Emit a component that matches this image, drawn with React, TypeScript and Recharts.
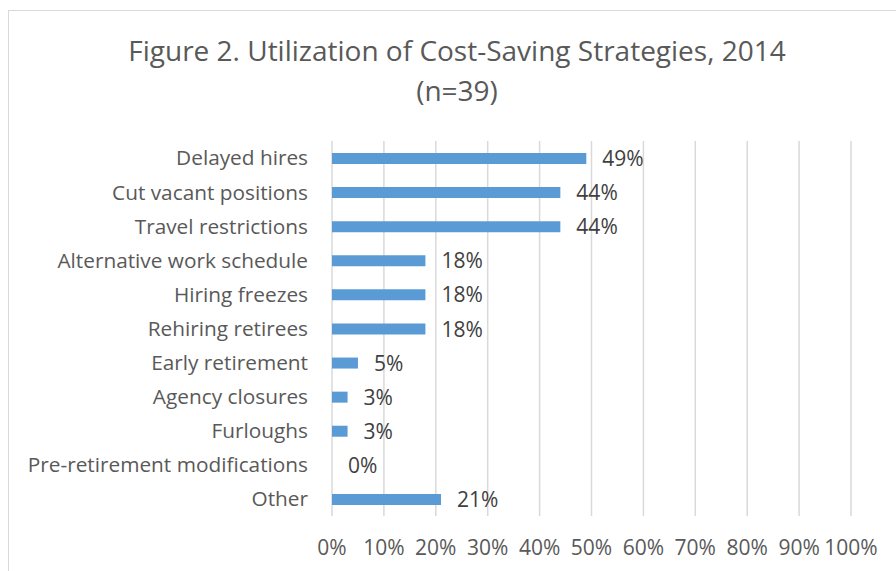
import { BarChart, Bar, XAxis, YAxis, CartesianGrid, LabelList } from "recharts"

const categories = [
  "Delayed hires",
  "Cut vacant positions",
  "Travel restrictions",
  "Alternative work schedule",
  "Hiring freezes",
  "Rehiring retirees",
  "Early retirement",
  "Agency closures",
  "Furloughs",
  "Pre-retirement modifications",
  "Other",
]

const shares = [49, 44, 44, 18, 18, 18, 5, 3, 3, 0, 21]

const xTicks = [0, 10, 20, 30, 40, 50, 60, 70, 80, 90, 100]

const data = categories.map((name, i) => ({ name, value: shares[i] }))

const font = "'Open Sans', sans-serif"

const BarValue = (props: any) => {
  const { x, y, width, height, value } = props
  return (
    <text
      x={Number(x) + Number(width) + 16}
      y={Number(y) + Number(height) / 2}
      dy="0.36em"
      fill="#404040"
      fontSize={21}
      fontFamily={font}
    >
      {value}%
    </text>
  )
}

export default function App() {
  return (
    <div style={{ position: "absolute", left: 0, top: 0, width: 896, height: 571, background: "#fff", fontFamily: font, overflow: "hidden" }}>
      <div
        style={{
          position: "absolute",
          left: 8,
          top: 10,
          width: 900,
          height: 600,
          border: "1.5px solid #d9d9d9",
        }}
      />
      <div
        style={{
          position: "absolute",
          left: 57,
          width: 800,
          top: 30,
          textAlign: "center",
          color: "#595959",
          fontSize: 28,
          lineHeight: "40px",
        }}
      >
        <div>Figure 2. Utilization of Cost-Saving Strategies, 2014</div>
        <div>(n=39)</div>
      </div>
      <div style={{ position: "absolute", left: 0, top: 0 }}>
        <BarChart
          width={896}
          height={571}
          data={data}
          layout="vertical"
          margin={{ top: 141, right: 45, bottom: 15, left: 0 }}
          barCategoryGap={23}
        >
          <CartesianGrid horizontal={false} stroke="#d9d9d9" strokeWidth={1.5} />
          <XAxis
            type="number"
            domain={[0, 100]}
            ticks={xTicks}
            tickFormatter={(v) => `${v}%`}
            axisLine={false}
            tickLine={false}
            tickMargin={18}
            height={40}
            interval={0}
            tick={{ fill: "#595959", fontSize: 21, fontFamily: font }}
          />
          <YAxis
            type="category"
            dataKey="name"
            width={332}
            axisLine={false}
            tickLine={false}
            tickMargin={18}
            interval={0}
            tick={{ fill: "#595959", fontSize: 20.8, fontFamily: font }}
          />
          <Bar
            dataKey="value"
            fill="#5b9bd5"
            barSize={11}
            minPointSize={0.001}
            isAnimationActive={false}
          >
            <LabelList dataKey="value" content={BarValue} />
          </Bar>
        </BarChart>
      </div>
    </div>
  )
}
